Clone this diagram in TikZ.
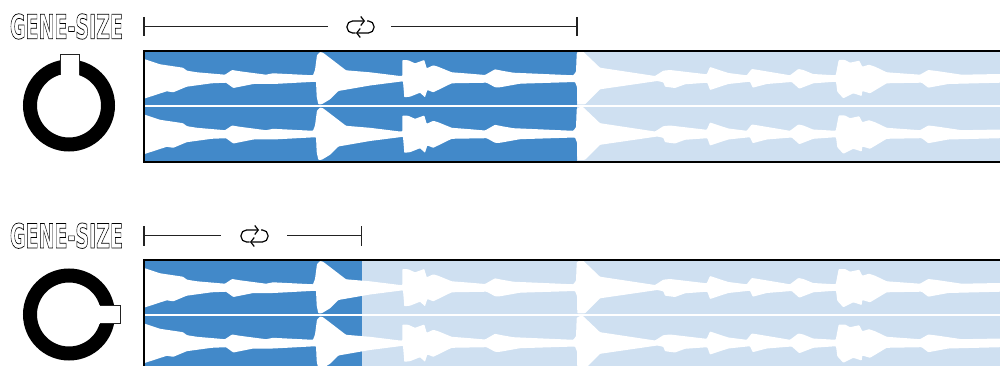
\documentclass[tikz,border=0pt]{standalone}
\usepackage{fontspec}
\setmainfont{DejaVu Sans}
\usetikzlibrary{arrows.meta,calc}
\definecolor{waveblue}{HTML}{4289C9}
\definecolor{wavelight}{HTML}{CFE0F1}
\definecolor{linedark}{HTML}{222222}
\newcommand{\wavepath}{(144,59) -- (160,64.3) -- (183,67.7) -- (187,70.7) -- (197,72.3) -- (225,74.7) -- (232,70) -- (240,71.3) -- (266,74.7) -- (273,73.3) -- (313,75.3) -- (315,70) -- (317,55) -- (320,52) -- (323,52.7) -- (346,70.3) -- (370,72.3) -- (400,76) -- (402.3,76) -- (402.3,60) -- (408.3,60.3) -- (415,63.3) -- (424.3,60) -- (426.7,68.3) -- (433.3,65.3) -- (438,66.7) -- (451.7,72.3) -- (470,73.7) -- (485,75) -- (495,69.3) -- (501.7,70.7) -- (513.3,72.7) -- (573.3,75.3) -- (576,71.7) -- (576.7,53.3) -- (580,51.5) -- (583,51.5) -- (600,67.7) -- (655,76) -- (663.3,70.7) -- (670,70) -- (706.7,74.3) -- (710,67) -- (728.3,73) -- (746.7,75.3) -- (751.7,69) -- (756.7,69.7) -- (790,75.3) -- (798.3,69) -- (803.3,70) -- (813,74) -- (835.7,75.3) -- (838.7,60) -- (845,60) -- (850,62.7) -- (859.3,60.7) -- (862.3,66.7) -- (869,64.7) -- (875,66.7) -- (886.7,72.3) -- (920,74.7) -- (928.3,70) -- (936.7,71) -- (961.7,74.7) -- (1001,74) -- (1001,82.7) -- (948.3,84) -- (928.3,87.7) -- (921.7,82.7) -- (886.7,83.3) -- (870,93.3) -- (862.3,91) -- (861.7,96) -- (853.3,93.3) -- (843.3,98.3) -- (837.3,91.7) -- (836,81.7) -- (813.3,83.3) -- (799.3,88.7) -- (791.7,82) -- (766.7,84) -- (752.7,87.7) -- (750,81.7) -- (728.3,84) -- (710,90) -- (707.3,82.7) -- (685,84.3) -- (675,88) -- (665,86.7) -- (663.3,82.3) -- (657.3,81) -- (600,89.3) -- (585,104.3) -- (577.3,104.3) -- (577,87) -- (575,82) -- (520,83.7) -- (500,87.3) -- (495,87.3) -- (486.7,82.7) -- (451.7,83.3) -- (433.3,92.3) -- (427.3,90) -- (425,97.3) -- (420,92.7) -- (410,96.7) -- (404.3,97.3) -- (403,81.3) -- (370,85.5) -- (338.3,91) -- (330,99.3) -- (321.7,104.3) -- (318.3,104.3) -- (316.7,96.7) -- (316,81.7) -- (273.3,84) -- (253.3,84) -- (233.3,88) -- (226,82.7) -- (211.7,83.3) -- (186.7,86.7) -- (173.3,92.3) -- (166.7,91.3) -- (144,98.7) -- cycle}
\tikzset{
  x=1pt,y=-1pt,
  wavefill/.style={fill=white,rounded corners=0.7pt},
  framerule/.style={draw=black,line width=1.15pt},
  spanrule/.style={draw=linedark,line width=1.1pt},
  ring/.style={draw=black,line width=14pt},
  tabfill/.style={fill=white},
  tabedge/.style={draw=linedark,line width=0.6pt},
  loopline/.style={draw=black,line width=1.2pt,rounded corners=5.5pt},
  logo/.style={inner sep=0pt,outer sep=0pt,anchor=center},
}
\newcommand{\logoword}{\resizebox{113pt}{25pt}{\bfseries\special{pdf:code 1 Tr 0.22 w}GENE-SIZE\special{pdf:code 0 Tr}}}
\newcommand{\loopicon}[2]{%
  \draw[loopline,-{Straight Barb[length=3.5pt,width=9pt]}] ($(#1,#2)+(-5,6)$) -- ($(#1,#2)+(-13.5,6)$) -- ($(#1,#2)+(-13.5,-6)$) -- ($(#1,#2)+(4.5,-6)$);
  \draw[loopline,-{Straight Barb[length=3.5pt,width=9pt]}] ($(#1,#2)+(6.5,-6)$) -- ($(#1,#2)+(13.5,-6)$) -- ($(#1,#2)+(13.5,6)$) -- ($(#1,#2)+(-4.5,6)$);
}
\begin{document}
\begin{tikzpicture}
\useasboundingbox (0,0) rectangle (1000,366);
% top track
\fill[wavelight] (144,51) rectangle (1000,162);
\fill[waveblue] (144,51) rectangle (577,162);
\fill[wavefill] \wavepath;
\begin{scope}[shift={(0,55.5)}]
\fill[wavefill] \wavepath;
\end{scope}
\fill[white] (144,104.6) rectangle (1000,107.4);
\draw[framerule] (1000,51) -- (144,51) -- (144,162) -- (1000,162);
% bottom track
\begin{scope}
\clip (0,0) rectangle (1000,366);
\fill[wavelight] (144,260) rectangle (1000,371);
\fill[waveblue] (144,260) rectangle (361.5,371);
\begin{scope}[shift={(0,209)}]
\fill[wavefill] \wavepath;
\end{scope}
\begin{scope}[shift={(0,264.5)}]
\fill[wavefill] \wavepath;
\end{scope}
\fill[white] (144,313.6) rectangle (1000,316.4);
\draw[framerule] (1000,260) -- (144,260) -- (144,366);
\end{scope}
% logos
\node[logo] (logoA) at (66.5,26.5) {\logoword};
\node[logo] (logoB) at (66.5,235.7) {\logoword};
% knobs
\draw[ring] (69,105.5) circle[radius=39];
\fill[tabfill] (60,54) rectangle (79,78);
\draw[tabedge] (60,75) -- (60,54) -- (79,54) -- (79,75);
\draw[ring] (69,314.5) circle[radius=39];
\fill[tabfill] (96,305) rectangle (120.5,323.5);
\draw[tabedge] (99.5,305) -- (120.5,305) -- (120.5,323.5) -- (99.5,323.5);
% span rules
\coordinate (a1) at (144,26.5); \coordinate (a2) at (328,26.5);
\coordinate (a3) at (391,26.5); \coordinate (a4) at (577,26.5);
\draw[spanrule] (a1) -- (a2) (a3) -- (a4);
\draw[spanrule] (144,17) -- (144,36.5) (577,17) -- (577,36.5);
\coordinate (b1) at (144,235.7); \coordinate (b2) at (221,235.7);
\coordinate (b3) at (287,235.7); \coordinate (b4) at (361.7,235.7);
\draw[spanrule] (b1) -- (b2) (b3) -- (b4);
\draw[spanrule] (144,226) -- (144,245.5) (361.7,226) -- (361.7,245.5);
\loopicon{360.5}{27}
\loopicon{254.5}{236}
\end{tikzpicture}
\end{document}
